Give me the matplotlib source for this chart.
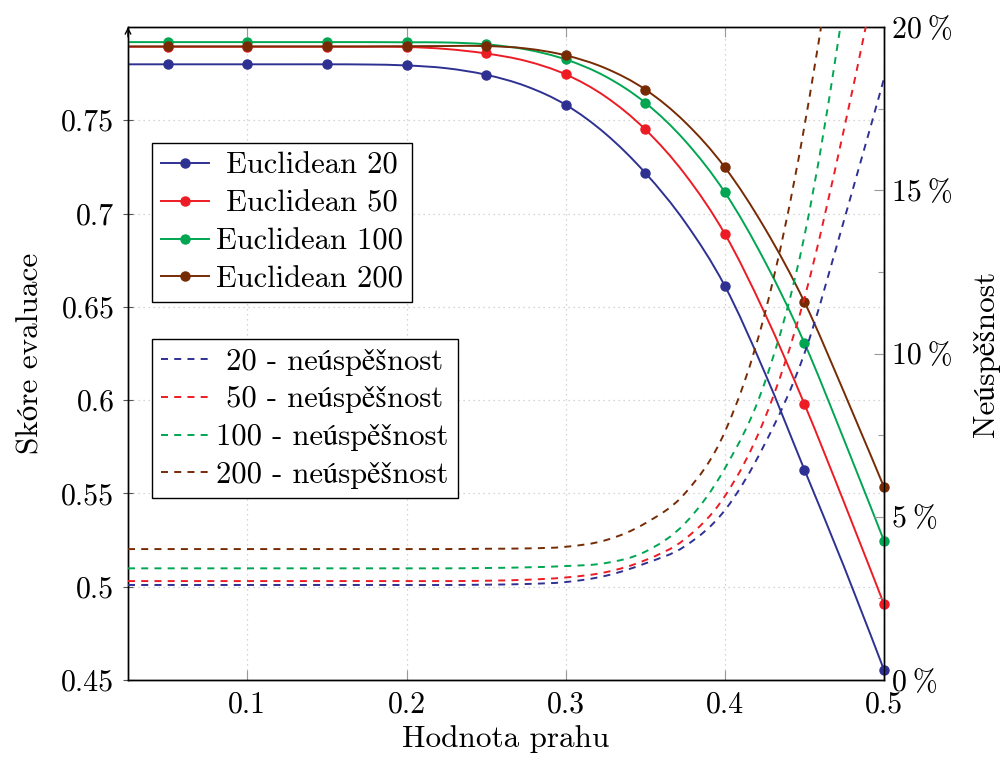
import matplotlib
matplotlib.use("Agg")
import matplotlib.pyplot as plt
from matplotlib.path import Path
from matplotlib.patches import PathPatch
from matplotlib.lines import Line2D
from matplotlib.ticker import FixedLocator

plt.rcParams['font.family'] = ['cmr10', 'STIXGeneral', 'DejaVu Serif']
plt.rcParams['mathtext.fontset'] = 'cm'
plt.rcParams['axes.unicode_minus'] = False

# prahy (krok 0.025, znacky u kazdeho druheho)
thresholds = [0.025, 0.05, 0.075, 0.10, 0.125, 0.15, 0.175, 0.20, 0.225, 0.25,
              0.275, 0.30, 0.325, 0.35, 0.375, 0.40, 0.425, 0.45, 0.475, 0.50]

# skore evaluace
score_20 = [0.780, 0.780, 0.780, 0.780, 0.780, 0.780, 0.7799, 0.7794, 0.7779, 0.7744,
            0.7683, 0.7583, 0.7428, 0.7218, 0.6954, 0.6612, 0.6149, 0.5627, 0.5105, 0.4554]
score_50 = [0.7894, 0.7894, 0.7894, 0.7894, 0.7894, 0.7894, 0.7894, 0.7893, 0.7882, 0.7858,
            0.7818, 0.7746, 0.7627, 0.7451, 0.7210, 0.6891, 0.6467, 0.5979, 0.5450, 0.4906]
score_100 = [0.7919, 0.7919, 0.7919, 0.7919, 0.7919, 0.7919, 0.7919, 0.7918, 0.7917, 0.7907,
             0.7880, 0.7826, 0.7735, 0.7594, 0.7390, 0.7114, 0.6746, 0.6306, 0.5785, 0.5246]
score_200 = [0.7896, 0.7896, 0.7896, 0.7896, 0.7896, 0.7896, 0.7896, 0.7897, 0.7898, 0.7898,
             0.7885, 0.7848, 0.7779, 0.7665, 0.7490, 0.7248, 0.6923, 0.6526, 0.6040, 0.5534]

# neuspesnost [%]
fail_20 = [2.91, 2.91, 2.91, 2.91, 2.91, 2.91, 2.91, 2.91, 2.91, 2.92,
           2.94, 3.00, 3.19, 3.57, 4.10, 5.20, 7.22, 10.00, 14.10, 18.42]
fail_50 = [3.03, 3.03, 3.03, 3.03, 3.03, 3.03, 3.03, 3.03, 3.03, 3.04,
           3.07, 3.14, 3.30, 3.67, 4.32, 5.63, 8.00, 11.70, 16.90, 22.70]
fail_100 = [3.42, 3.42, 3.42, 3.42, 3.42, 3.42, 3.42, 3.42, 3.42, 3.43,
            3.45, 3.49, 3.58, 3.93, 4.80, 6.48, 9.10, 13.60, 20.80, 30.00]
fail_200 = [4.01, 4.01, 4.01, 4.01, 4.01, 4.01, 4.01, 4.01, 4.01, 4.02,
            4.03, 4.08, 4.28, 4.80, 5.72, 7.60, 11.20, 16.96, 25.00, 36.00]

score_labels = [' Euclidean 20', ' Euclidean 50', 'Euclidean 100', 'Euclidean 200']
fail_labels = [' 20 - neúspěšnost', ' 50 - neúspěšnost', '100 - neúspěšnost', '200 - neúspěšnost']
colors = ['#2e3192', '#ed1c24', '#00a651', '#772b05']

x_ticks = [0.1, 0.2, 0.3, 0.4, 0.5]
y_ticks = [0.45, 0.5, 0.55, 0.6, 0.65, 0.7, 0.75]
y_tick_labels = ['0.45', '0.5', '0.55', '0.6', '0.65', '0.7', '0.75']
pct_ticks = [0, 5, 10, 15, 20]
pct_minor = [2.5, 7.5, 12.5, 17.5]

DASH = (0, (3.6, 3.2))


def smooth_path(xs, ys, k=0.17):
    # hladka krivka pres body (Bezier jako tikz "smooth")
    n = len(xs)
    verts = [(xs[0], ys[0])]
    codes = [Path.MOVETO]
    for i in range(n - 1):
        x0, y0 = xs[i], ys[i]
        x1, y1 = xs[i + 1], ys[i + 1]
        if i == 0:
            c1 = (x0, y0)
        else:
            c1 = (x0 + k * (x1 - xs[i - 1]), y0 + k * (y1 - ys[i - 1]))
        if i + 2 >= n:
            c2 = (x1, y1)
        else:
            c2 = (x1 - k * (xs[i + 2] - x0), y1 - k * (ys[i + 2] - y0))
        verts += [c1, c2, (x1, y1)]
        codes += [Path.CURVE4] * 3
    return Path(verts, codes)


fig = plt.figure(figsize=(10.08, 7.58), dpi=100)
ax = fig.add_axes([128 / 1008, 78 / 758, 756 / 1008, 653 / 758])
ax2 = ax.twinx()

scores = [score_20, score_50, score_100, score_200]
fails = [fail_20, fail_50, fail_100, fail_200]

for s, c in zip(scores, colors):
    ax.add_patch(PathPatch(smooth_path(thresholds, s), fill=False, edgecolor=c, lw=1.4, zorder=3))
    ax.plot(thresholds, s, linestyle='none', marker='o', ms=6.5, color=c,
            markevery=slice(1, None, 2), zorder=4, clip_on=False)

for f, c in zip(fails, colors):
    ax2.add_patch(PathPatch(smooth_path(thresholds, f), fill=False, edgecolor=c, lw=1.4,
                            linestyle=DASH, zorder=3))

ax.set_xlim(0.025, 0.5)
ax.set_ylim(0.45, 0.80)
ax2.set_ylim(0, 20)

ax.set_xticks(x_ticks)
ax.set_xticklabels([f'{v:g}' for v in x_ticks])
ax.set_yticks(y_ticks)
ax.set_yticklabels(y_tick_labels)
ax2.set_yticks(pct_ticks)
ax2.set_yticklabels([f'{v}\u2009%' for v in pct_ticks])
ax2.yaxis.set_minor_locator(FixedLocator(pct_minor))

ax.grid(True, color='#c8c8c8', linestyle=(0, (1, 3)), lw=0.9)
ax.set_axisbelow(True)

ax.tick_params(axis='x', direction='in', length=7.5, width=0.8, color='#999999',
               labelsize=21.5, pad=8, top=True)
ax.tick_params(axis='y', direction='inout', length=7.5, width=0.8, color='#555555',
               labelsize=21.5, pad=6)
ax2.tick_params(axis='y', which='major', direction='in', length=7.5, width=0.8,
                color='#999999', labelsize=21.5, pad=6)
ax2.tick_params(axis='y', which='minor', direction='in', length=4.5, width=0.8,
                color='#999999')

for sp in list(ax.spines.values()) + list(ax2.spines.values()):
    sp.set_linewidth(1.0)
    sp.set_color('black')

ax.set_xlabel('Hodnota prahu', fontsize=22.5, labelpad=5)
ax.set_ylabel('Skóre evaluace', fontsize=22.5, labelpad=12)
ax2.set_ylabel('Neúspěšnost', fontsize=22.5, labelpad=14)

# sipka na konci leve osy
ax.annotate('', xy=(0, 1.0), xytext=(0, 0.985), xycoords='axes fraction',
            arrowprops=dict(arrowstyle='->', lw=1.0, color='black', shrinkA=0, shrinkB=0),
            annotation_clip=False)

h1 = [Line2D([], [], color=c, lw=1.4, marker='o', ms=6.5) for c in colors]
h2 = [Line2D([], [], color=c, lw=1.4, linestyle=DASH) for c in colors]

leg_kw = dict(loc='upper left', borderaxespad=0, fancybox=False, framealpha=1,
              edgecolor='black', fontsize=22, handlelength=1.55, handletextpad=0.25,
              labelspacing=0.34, borderpad=0.3)
leg1 = ax2.legend(h1, score_labels, bbox_to_anchor=((152 - 128) / 756, (680 - 143) / 653), **leg_kw)
leg1.get_frame().set_linewidth(1.0)
ax2.add_artist(leg1)
leg2 = ax2.legend(h2, fail_labels, bbox_to_anchor=((152 - 128) / 756, (680 - 339) / 653), **leg_kw)
leg2.get_frame().set_linewidth(1.0)

fig.savefig('out.png', dpi=100)
